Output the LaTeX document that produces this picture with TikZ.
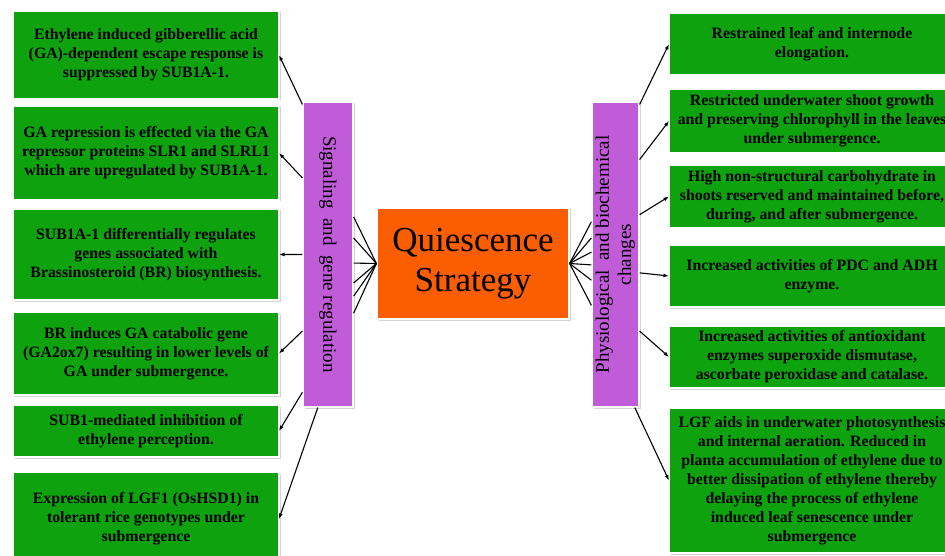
\documentclass[tikz,border=0pt]{standalone}
\usepackage{graphicx}
\usepackage{fontspec}
\setmainfont{Liberation Serif}
\usetikzlibrary{positioning, calc, shadows, arrows.meta}

\definecolor{boxgreen}{RGB}{14,162,14}
\definecolor{barpurple}{RGB}{192,92,216}
\definecolor{qorange}{RGB}{250,94,0}

\tikzset{
  gbox/.style={rectangle, fill=boxgreen, draw=white, line width=1.2pt, outer sep=0pt,
    drop shadow={opacity=0.35, shadow xshift=1.5pt, shadow yshift=-1.5pt},
    align=center, inner sep=2pt, font=\fontsize{15.8}{19}\selectfont\bfseries},
  lbox/.style={gbox, minimum width=266pt},
  rbox/.style={gbox, minimum width=286pt},
  pbar/.style={rectangle, fill=barpurple, draw=white, line width=1.2pt,
    drop shadow={opacity=0.35, shadow xshift=1.5pt, shadow yshift=-1.5pt},
    minimum height=305pt, inner sep=0pt, font=\fontsize{19}{22}\selectfont},
  cbox/.style={rectangle, fill=qorange, draw=white, line width=1.2pt,
    drop shadow={opacity=0.35, shadow xshift=1.5pt, shadow yshift=-1.5pt},
    minimum width=192pt, minimum height=111pt, align=center,
    font=\fontsize{35}{40}\selectfont},
  arr/.style={-{Latex[length=5.5pt,width=4pt]}, line width=1.1pt},
  fan/.style={line width=1.1pt},
}

\begin{document}
\begin{tikzpicture}[x=1pt, y=-1pt]
  \clip (0,0) rectangle (945,556);

  % centre and the two bars
  \node[cbox] (qs) at (473,263.5) {Quiescence\\Strategy};
  \node[pbar, minimum width=50pt] (lbar) at (328,254.5)
    {\rotatebox{-90}{Signaling\ \ and\ \ gene regulation}};
  \node[pbar, minimum width=47pt] (rbar) at (615.5,254.5)
    {\rotatebox{90}{\begin{tabular}{@{}c@{}}Physiological\ \ and biochemical\\changes\end{tabular}}};

  % left column
  \node[lbox, minimum height=88pt] (L1) at (146,55)
    {Ethylene induced gibberellic acid\\(GA)-dependent escape response is\\suppressed by SUB1A-1.};
  \node[lbox, minimum height=94pt, below=7pt of L1] (L2)
    {GA repression is effected via the GA\\repressor proteins SLR1 and SLRL1\\which are upregulated by SUB1A-1.};
  \node[lbox, minimum height=91pt, below=9pt of L2] (L3)
    {SUB1A-1 differentially regulates\\genes associated with\\Brassinosteroid (BR) biosynthesis.};
  \node[lbox, minimum height=83pt, below=12pt of L3] (L4)
    {BR induces GA catabolic gene\\(GA2ox7) resulting in lower levels of\\GA under submergence.};
  \node[lbox, minimum height=52pt, below=10pt of L4] (L5)
    {SUB1-mediated inhibition of\\ethylene perception.};
  \node[lbox, minimum height=94pt, below=15pt of L5] (L6)
    {Expression of LGF1 (OsHSD1) in\\tolerant rice genotypes under\\submergence};

  % right column
  \node[rbox, minimum height=62pt] (R1) at (812,44)
    {Restrained leaf and internode\\elongation.};
  \node[rbox, minimum height=64pt, below=14pt of R1] (R2)
    {Restricted underwater shoot growth\\and preserving chlorophyll in the leaves\\under submergence.};
  \node[rbox, minimum height=63pt, below=12pt of R2] (R3)
    {High non-structural carbohydrate in\\shoots reserved and maintained before,\\during, and after submergence.};
  \node[rbox, minimum height=62pt, below=17pt of R3] (R4)
    {Increased activities of PDC and ADH\\enzyme.};
  \node[rbox, minimum height=62pt, below=19pt of R4] (R5)
    {Increased activities of antioxidant\\enzymes superoxide dismutase,\\ascorbate peroxidase and catalase.};
  \node[rbox, minimum height=145pt, below=20pt of R5] (R6)
    {LGF aids in underwater photosynthesis\\and internal aeration. Reduced in\\planta accumulation of ethylene due to\\better dissipation of ethylene thereby\\delaying the process of ethylene\\induced leaf senescence under\\submergence};

  % fans into the centre
  \foreach \f in {0.377,0.446,0.528,0.593,0.636,0.692}
    \draw[fan] ($(lbar.north east)!\f!(lbar.south east)$) -- (qs.west);
  \foreach \f in {0.393,0.446,0.492,0.534,0.584,0.666}
    \draw[fan] ($(rbar.north west)!\f!(rbar.south west)$) -- (qs.east);

  % arrows out to the boxes
  \foreach \f/\b in {0.01/L1,0.25/L2,0.5/L3,0.75/L4,0.95/L5}
    \draw[arr] ($(lbar.north west)!\f!(lbar.south west)$) -- (\b.east);
  \draw[arr] ($(lbar.south west)!0.3!(lbar.south east)$) -- (L6.east);
  \foreach \f/\b in {0.01/R1,0.19/R2,0.37/R3,0.56/R4,0.75/R5}
    \draw[arr] ($(rbar.north east)!\f!(rbar.south east)$) -- (\b.west);
  \draw[arr] ($(rbar.south west)!0.9!(rbar.south east)$) -- (R6.west);
\end{tikzpicture}
\end{document}
